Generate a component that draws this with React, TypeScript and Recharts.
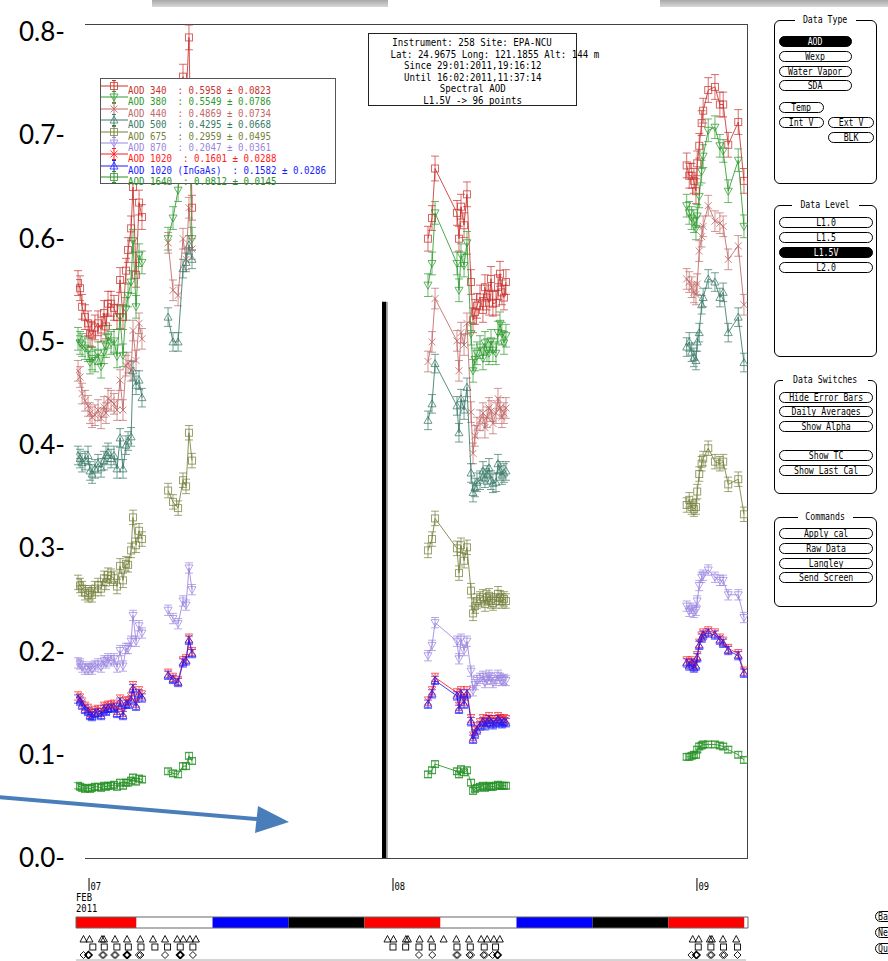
import React from 'react';
import { ComposedChart, Line, XAxis, YAxis, ErrorBar, ReferenceLine, ReferenceArea, Scatter } from 'recharts';

// ---------- axes ----------
const xDomain: [number, number] = [-1.03, 52.03]; // hours since 07 Feb 2011 00:00
const yDomain: [number, number] = [0, 0.808];
const yTicks = [0, 0.1, 0.2, 0.3, 0.4, 0.5, 0.6, 0.7, 0.8];

// ---------- measurement times (hours) ----------
const timesA = [-0.87, -0.71, -0.55, -0.32, -0.08, 0.08, 0.24, 0.47, 0.71, 0.95, 1.18, 1.34, 1.5, 1.74, 1.97, 2.21, 2.45, 2.68, 2.92, 3.08, 3.32, 3.47, 3.71, 3.95, 4.18];
const timesB = [6.24, 6.63, 7.03, 7.42, 7.66, 7.89, 8.13];
const timesC = [26.76, 27.08, 27.32, 29.05, 29.21, 29.37, 29.61, 29.84, 30.16, 30.32, 30.47, 30.63, 30.87, 31.1, 31.26, 31.42, 31.58, 31.74, 31.89, 32.13, 32.29, 32.45, 32.6, 32.76, 32.92];
const timesD = [47.19, 47.39, 47.58, 47.76, 47.92, 48.02, 48.18, 48.37, 48.49, 48.89, 49.42, 49.81, 50.07, 50.47, 51.26, 51.71];

// ---------- AOD values ----------
const aod340A = [0.557, 0.552, 0.534, 0.524, 0.518, 0.508, 0.507, 0.514, 0.518, 0.512, 0.528, 0.515, 0.537, 0.537, 0.533, 0.524, 0.56, 0.524, 0.569, 0.589, 0.61, 0.65, 0.565, 0.635, 0.621];
const aod340B = [0.665, 0.68, 0.72, 0.757, 0.735, 0.795, 0.63];
const aod340C = [0.6, 0.62, 0.668, 0.625, 0.6, 0.631, 0.613, 0.643, 0.558, 0.521, 0.529, 0.535, 0.543, 0.531, 0.553, 0.543, 0.538, 0.561, 0.537, 0.538, 0.553, 0.566, 0.548, 0.543, 0.558];
const aod340D = [0.671, 0.661, 0.661, 0.656, 0.646, 0.673, 0.69, 0.712, 0.724, 0.744, 0.747, 0.73, 0.73, 0.691, 0.713, 0.656];

const aod380A = [0.503, 0.499, 0.497, 0.494, 0.492, 0.48, 0.484, 0.482, 0.489, 0.476, 0.49, 0.496, 0.505, 0.499, 0.501, 0.486, 0.524, 0.487, 0.532, 0.545, 0.558, 0.598, 0.534, 0.584, 0.577];
const aod380B = [0.6, 0.62, 0.647, 0.7, 0.68, 0.72, 0.6];
const aod380C = [0.555, 0.576, 0.625, 0.576, 0.55, 0.584, 0.574, 0.596, 0.508, 0.472, 0.483, 0.489, 0.495, 0.484, 0.499, 0.492, 0.489, 0.501, 0.492, 0.489, 0.509, 0.518, 0.508, 0.499, 0.506];
const aod380D = [0.632, 0.625, 0.62, 0.617, 0.61, 0.622, 0.641, 0.665, 0.68, 0.705, 0.708, 0.69, 0.685, 0.646, 0.676, 0.612];

const aod440A = [0.472, 0.466, 0.45, 0.443, 0.438, 0.431, 0.427, 0.429, 0.434, 0.426, 0.437, 0.431, 0.445, 0.443, 0.44, 0.434, 0.463, 0.434, 0.477, 0.48, 0.472, 0.511, 0.482, 0.518, 0.503];
const aod440B = [0.596, 0.55, 0.545, 0.6, 0.58, 0.63, 0.59];
const aod440C = [0.481, 0.5, 0.542, 0.501, 0.472, 0.509, 0.497, 0.518, 0.432, 0.392, 0.409, 0.417, 0.424, 0.431, 0.417, 0.427, 0.436, 0.433, 0.421, 0.431, 0.445, 0.436, 0.427, 0.431, 0.436];
const aod440D = [0.561, 0.558, 0.553, 0.548, 0.546, 0.556, 0.588, 0.602, 0.612, 0.632, 0.617, 0.615, 0.612, 0.58, 0.593, 0.536];

const aod500A = [0.39, 0.387, 0.383, 0.385, 0.39, 0.375, 0.372, 0.377, 0.382, 0.378, 0.385, 0.39, 0.393, 0.387, 0.39, 0.377, 0.407, 0.377, 0.4, 0.404, 0.408, 0.472, 0.458, 0.463, 0.446];
const aod500B = [0.524, 0.5, 0.5, 0.571, 0.577, 0.594, 0.58];
const aod500C = [0.424, 0.44, 0.479, 0.438, 0.412, 0.445, 0.434, 0.456, 0.373, 0.354, 0.359, 0.364, 0.366, 0.375, 0.368, 0.371, 0.378, 0.366, 0.363, 0.364, 0.382, 0.375, 0.371, 0.373, 0.375];
const aod500D = [0.495, 0.5, 0.49, 0.485, 0.482, 0.5, 0.509, 0.536, 0.543, 0.561, 0.558, 0.543, 0.548, 0.509, 0.524, 0.48];

const aod675A = [0.267, 0.264, 0.261, 0.257, 0.255, 0.257, 0.255, 0.261, 0.264, 0.261, 0.271, 0.267, 0.274, 0.273, 0.271, 0.263, 0.283, 0.269, 0.285, 0.284, 0.298, 0.33, 0.303, 0.317, 0.309];
const aod675B = [0.356, 0.345, 0.339, 0.366, 0.36, 0.412, 0.385];
const aod675C = [0.298, 0.309, 0.329, 0.3, 0.276, 0.303, 0.288, 0.301, 0.259, 0.237, 0.244, 0.249, 0.251, 0.253, 0.246, 0.252, 0.254, 0.249, 0.247, 0.249, 0.256, 0.252, 0.249, 0.251, 0.249];
const aod675D = [0.342, 0.347, 0.34, 0.338, 0.34, 0.355, 0.372, 0.382, 0.387, 0.397, 0.384, 0.382, 0.384, 0.362, 0.367, 0.333];

const aod870A = [0.189, 0.188, 0.185, 0.183, 0.183, 0.185, 0.183, 0.186, 0.188, 0.185, 0.191, 0.189, 0.193, 0.191, 0.193, 0.185, 0.201, 0.186, 0.203, 0.203, 0.21, 0.235, 0.21, 0.225, 0.218];
const aod870B = [0.24, 0.232, 0.227, 0.249, 0.245, 0.281, 0.26];
const aod870C = [0.196, 0.206, 0.228, 0.21, 0.193, 0.212, 0.201, 0.21, 0.181, 0.162, 0.168, 0.172, 0.174, 0.176, 0.17, 0.173, 0.177, 0.174, 0.17, 0.172, 0.177, 0.174, 0.172, 0.173, 0.172];
const aod870D = [0.244, 0.239, 0.242, 0.238, 0.24, 0.249, 0.264, 0.272, 0.274, 0.279, 0.272, 0.269, 0.269, 0.255, 0.255, 0.233];

const aod1020A = [0.157, 0.155, 0.151, 0.147, 0.145, 0.141, 0.14, 0.143, 0.144, 0.141, 0.147, 0.145, 0.148, 0.148, 0.149, 0.143, 0.154, 0.141, 0.152, 0.152, 0.156, 0.167, 0.15, 0.162, 0.158];
const aod1020B = [0.179, 0.175, 0.172, 0.191, 0.193, 0.213, 0.2];
const aod1020C = [0.152, 0.162, 0.175, 0.16, 0.147, 0.162, 0.152, 0.162, 0.135, 0.118, 0.123, 0.127, 0.131, 0.135, 0.131, 0.134, 0.137, 0.134, 0.132, 0.134, 0.137, 0.135, 0.133, 0.135, 0.134];
const aod1020D = [0.191, 0.188, 0.191, 0.186, 0.188, 0.196, 0.208, 0.215, 0.218, 0.22, 0.218, 0.213, 0.21, 0.203, 0.198, 0.181];

const aodIngaasA = [0.154, 0.152, 0.148, 0.144, 0.142, 0.138, 0.137, 0.14, 0.141, 0.138, 0.144, 0.142, 0.145, 0.145, 0.146, 0.14, 0.151, 0.138, 0.149, 0.149, 0.153, 0.164, 0.147, 0.159, 0.155];
const aodIngaasB = [0.177, 0.173, 0.17, 0.189, 0.191, 0.211, 0.198];
const aodIngaasC = [0.149, 0.159, 0.172, 0.157, 0.144, 0.159, 0.149, 0.159, 0.132, 0.115, 0.12, 0.124, 0.128, 0.132, 0.128, 0.131, 0.134, 0.131, 0.129, 0.131, 0.134, 0.132, 0.13, 0.132, 0.131];
const aodIngaasD = [0.189, 0.186, 0.189, 0.184, 0.186, 0.194, 0.206, 0.213, 0.216, 0.218, 0.216, 0.211, 0.208, 0.201, 0.196, 0.179];

const aod1640A = [0.07, 0.069, 0.068, 0.067, 0.068, 0.067, 0.068, 0.069, 0.069, 0.068, 0.07, 0.069, 0.07, 0.07, 0.071, 0.069, 0.073, 0.07, 0.073, 0.073, 0.075, 0.078, 0.074, 0.077, 0.076];
const aod1640B = [0.084, 0.082, 0.081, 0.089, 0.089, 0.099, 0.094];
const aod1640C = [0.081, 0.085, 0.091, 0.084, 0.081, 0.086, 0.083, 0.085, 0.073, 0.065, 0.067, 0.068, 0.069, 0.07, 0.068, 0.069, 0.07, 0.069, 0.069, 0.07, 0.071, 0.07, 0.07, 0.07, 0.07];
const aod1640D = [0.098, 0.098, 0.099, 0.1, 0.1, 0.105, 0.108, 0.109, 0.11, 0.11, 0.11, 0.109, 0.108, 0.105, 0.1, 0.095];

// typical uncertainty per channel
const errors = [0.012, 0.011, 0.01, 0.009, 0.007, 0.005, 0.004, 0.004, 0.003];

const legendLabels = [
  'AOD 340  : 0.5958 \u00b1 0.0823',
  'AOD 380  : 0.5549 \u00b1 0.0786',
  'AOD 440  : 0.4869 \u00b1 0.0734',
  'AOD 500  : 0.4295 \u00b1 0.0668',
  'AOD 675  : 0.2959 \u00b1 0.0495',
  'AOD 870  : 0.2047 \u00b1 0.0361',
  'AOD 1020  : 0.1601 \u00b1 0.0288',
  'AOD 1020 (InGaAs)  : 0.1582 \u00b1 0.0286',
  'AOD 1640  : 0.0812 \u00b1 0.0145',
];
const colors = ['#c8322e', '#2e9a2e', '#c06868', '#3a7a68', '#75803c', '#9b85e0', '#ff1a1a', '#1a1aff', '#279127'];
const shapes = ['square', 'down', 'x', 'up', 'square', 'down', 'x', 'up', 'square'];
const seriesValues = [
  [aod340A, aod340B, aod340C, aod340D],
  [aod380A, aod380B, aod380C, aod380D],
  [aod440A, aod440B, aod440C, aod440D],
  [aod500A, aod500B, aod500C, aod500D],
  [aod675A, aod675B, aod675C, aod675D],
  [aod870A, aod870B, aod870C, aod870D],
  [aod1020A, aod1020B, aod1020C, aod1020D],
  [aodIngaasA, aodIngaasB, aodIngaasC, aodIngaasD],
  [aod1640A, aod1640B, aod1640C, aod1640D],
];
const clusterTimes = [timesA, timesB, timesC, timesD];

const infoLines = [
  'Instrument: 258 Site: EPA-NCU',
  'Lat: 24.9675 Long: 121.1855 Alt: 144 m',
  'Since 29:01:2011,19:16:12',
  'Until 16:02:2011,11:37:14',
  'Spectral AOD',
  'L1.5V -> 96 points',
];

// last calibration marker
const calMarker = { t: 23.29, top: 0.539 };

// ---------- timeline ----------
const segBounds = [-1.03, 3.75, 9.75, 15.75, 21.75, 27.75, 33.75, 39.75, 45.75, 51.75, 52.03];
const segColors = ['#ff0000', '#ffffff', '#0000ff', '#000000', '#ff0000', '#ffffff', '#0000ff', '#000000', '#ff0000', '#ffffff'];
const dayTicks = [0, 24, 48];
const dayNames = ['07', '08', '09'];
const monthName = 'FEB';
const yearName = '2011';
const triTimes = [-0.2, 1.1, 2.05, 3.0, 4.05, 5.05, 6.0, 7.2, 8.2, 23.8, 25.1, 26.1, 27.0, 28.0, 29.0, 30.0, 31.2, 32.2, 47.9, 49.1, 50.05, 51.1];
const triKinds = [2, 3, 1, 1, 1, 1, 1, 2, 2, 2, 3, 1, 1, 1, 1, 1, 2, 2, 2, 3, 1, 1];
const sqTimes = [0.3, 1.2, 2.2, 3.1, 4.1, 5.2, 6.2, 7.2, 8.2, 24.0, 25.0, 26.05, 27.1, 29.05, 30.1, 31.2, 32.1, 48.1, 49.1, 50.1, 51.2];
const diaTimes = [-0.2, 1.1, 2.05, 3.0, 4.0, 6.0, 7.2, 8.2, 26.05, 27.1, 29.05, 30.1, 31.2, 32.1, 47.8, 49.1, 50.1, 51.2];
const diaKinds = [2, 3, 3, 4, 3, 1, 4, 1, 1, 1, 3, 3, 3, 2, 2, 3, 3, 1];

const MONO = "'DejaVu Sans Mono', monospace";

function Marker({ cx, cy, shape, color }: any) {
  if (cx == null || cy == null || isNaN(cx) || isNaN(cy)) return <g />;
  const sw = 1;
  if (shape === 'square') return <rect x={cx - 3.5} y={cy - 3.5} width={7} height={7} fill="none" stroke={color} strokeWidth={sw} strokeOpacity={0.75} />;
  if (shape === 'down') return <polygon points={`${cx - 4},${cy - 3} ${cx + 4},${cy - 3} ${cx},${cy + 4}`} fill="none" stroke={color} strokeWidth={sw} strokeOpacity={0.75} />;
  if (shape === 'up') return <polygon points={`${cx - 4},${cy + 3} ${cx + 4},${cy + 3} ${cx},${cy - 4}`} fill="none" stroke={color} strokeWidth={sw} strokeOpacity={0.75} />;
  return <path d={`M${cx - 3.5},${cy - 3.5}L${cx + 3.5},${cy + 3.5}M${cx - 3.5},${cy + 3.5}L${cx + 3.5},${cy - 3.5}`} stroke={color} strokeWidth={sw} strokeOpacity={0.8} />;
}

function YTick(props: any) {
  const { y, payload } = props;
  return (
    <text x={65} y={y + 9} textAnchor="end" fontFamily="Lato, 'Open Sans', sans-serif" fontSize={26} fill="#000">
      {payload.value.toFixed(1) + '-'}
    </text>
  );
}

function CondText({ children, align = 'left', size = 11 }: any) {
  return (
    <span style={{ display: 'inline-block', fontFamily: MONO, fontSize: size, lineHeight: '11px', whiteSpace: 'pre', transform: 'scaleX(0.83)', transformOrigin: align === 'center' ? 'center' : 'left' }}>
      {children}
    </span>
  );
}

function Btn({ x, y, w, label, active, left }: any) {
  return (
    <div
      style={{
        position: 'absolute', left: x, top: y, width: w, height: 11, boxSizing: 'border-box',
        border: '1px solid #000', borderRadius: 6, background: active ? '#000' : '#fff', color: active ? '#fff' : '#000',
        display: 'flex', alignItems: 'center', justifyContent: left ? 'flex-start' : 'center', paddingLeft: left ? 2 : 0,
        overflow: 'hidden', fontFamily: MONO, fontSize: 10, lineHeight: '10px',
      }}
    >
      <span style={{ display: 'inline-block', whiteSpace: 'pre', transform: 'scaleX(0.82)', transformOrigin: left ? 'left' : 'center' }}>{label}</span>
    </div>
  );
}

function Panel({ x, y, w, h, title }: any) {
  return (
    <div style={{ position: 'absolute', left: x, top: y, width: w, height: h, border: '1px solid #000', borderRadius: 6 }}>
      <div style={{ position: 'absolute', left: 0, right: 0, top: -7, textAlign: 'center', lineHeight: '12px', fontSize: 10 }}>
        <span style={{ background: '#fff', padding: '0 3px', display: 'inline-block' }}>
          <span style={{ display: 'inline-block', fontFamily: MONO, fontSize: 10, lineHeight: '12px', whiteSpace: 'pre', transform: 'scaleX(0.82)' }}>{title}</span>
        </span>
      </div>
    </div>
  );
}

function TimelineShape(props: any) {
  const { cx, cy, payload } = props;
  if (cx == null || cy == null) return <g />;
  const s = payload.sym;
  const k = payload.kind || 1;
  const tri = (dx: number, dy: number, key: string) => (
    <polygon key={key} points={`${cx + dx - 3.5},${cy + dy + 3} ${cx + dx + 3.5},${cy + dy + 3} ${cx + dx},${cy + dy - 3.5}`} fill="none" stroke="#000" strokeWidth={0.9} />
  );
  const dia = (dx: number, key: string, w = 0.9) => (
    <polygon key={key} points={`${cx + dx},${cy - 3.5} ${cx + dx + 3.5},${cy} ${cx + dx},${cy + 3.5} ${cx + dx - 3.5},${cy}`} fill="none" stroke="#000" strokeWidth={w} />
  );
  if (s === 'tri') {
    if (k === 2) return <g>{tri(-3, 0, 'a')}{tri(3, 0, 'b')}</g>;
    if (k === 3) return <g>{tri(-1, 0, 'a')}{tri(1, 0, 'b')}</g>;
    return <g>{tri(0, 0, 'a')}</g>;
  }
  if (s === 'sq') return <rect x={cx - 3} y={cy - 3} width={6} height={6} fill="none" stroke="#000" strokeWidth={0.9} />;
  if (s === 'dia') {
    if (k === 2) return <g>{dia(-3, 'a')}{dia(2, 'b', 1.6)}</g>;
    if (k === 3) return <g>{dia(-0.8, 'a')}{dia(0.8, 'b')}</g>;
    if (k === 4) return <g>{dia(0, 'a', 1.8)}</g>;
    return <g>{dia(0, 'a')}</g>;
  }
  if (s === 'day') {
    const tx = (x: number, y: number, txt: string, key: string) => (
      <text key={key} x={0} y={0} transform={`translate(${x},${y}) scale(0.8,1)`} fontFamily={MONO} fontSize={11} fill="#000">{txt}</text>
    );
    return (
      <g>
        <line x1={cx} y1={cy - 7} x2={cx} y2={cy + 6} stroke="#000" strokeWidth={1} />
        {tx(cx + 1.5, cy + 5, payload.label, 'd')}
        {payload.month ? tx(cx - 13, cy + 16, payload.month, 'm') : null}
        {payload.year ? tx(cx - 13, cy + 27, payload.year, 'y') : null}
      </g>
    );
  }
  return <g />;
}

export default function App() {
  const lines: any[] = [];
  seriesValues.forEach((clusters, si) => {
    clusters.forEach((vals, ci) => {
      const data = vals.map((v, i) => ({ t: clusterTimes[ci][i], v, e: errors[si] }));
      lines.push(
        <Line
          key={`s${si}c${ci}`}
          data={data}
          dataKey="v"
          type="linear"
          stroke={colors[si]}
          strokeOpacity={0.85}
          strokeWidth={1}
          isAnimationActive={false}
          activeDot={false}
          dot={(p: any) => (
            <g key={`m${si}-${ci}-${p.index}`}>
              <Marker cx={p.cx} cy={p.cy} shape={shapes[si]} color={colors[si]} />
            </g>
          )}
        >
          <ErrorBar dataKey="e" width={4} stroke={colors[si]} strokeWidth={1} strokeOpacity={0.7} direction="y" isAnimationActive={false} />
        </Line>
      );
    });
  });

  const triData = triTimes.map((t, i) => ({ t, y: 22, sym: 'tri', kind: triKinds[i] }));
  const sqData = sqTimes.map((t) => ({ t, y: 14, sym: 'sq' }));
  const diaData = diaTimes.map((t, i) => ({ t, y: 6, sym: 'dia', kind: diaKinds[i] }));
  const dayData = dayTicks.map((t, i) => ({ t, y: 76, sym: 'day', label: dayNames[i], month: i === 0 ? monthName : null, year: i === 0 ? yearName : null }));

  return (
    <div style={{ position: 'absolute', left: 0, top: 0, width: 888, height: 961, overflow: 'hidden', background: '#fff' }}>
      {/* top slide remnants */}
      <div style={{ position: 'absolute', left: 152, top: 0, width: 236, height: 7, background: 'linear-gradient(#a8a8a8,#d8d8d8)' }} />
      <div style={{ position: 'absolute', left: 660, top: 0, width: 228, height: 7, background: 'linear-gradient(#a8a8a8,#d8d8d8)' }} />

      {/* plot frame */}
      <div style={{ position: 'absolute', left: 85, top: 24, width: 662, height: 833, borderTop: '1px solid #444', borderRight: '1px solid #444', borderBottom: '1px solid #444' }} />

      <div style={{ position: 'absolute', left: 0, top: 0 }}>
        <ComposedChart width={888} height={880} margin={{ top: 24, right: 140, bottom: 22, left: 0 }}>
          <XAxis type="number" dataKey="t" domain={xDomain} hide allowDataOverflow />
          <YAxis type="number" domain={yDomain} ticks={yTicks} width={76} axisLine={false} tickLine={false} tick={<YTick />} interval={0} allowDataOverflow />
          <ReferenceLine segment={[{ x: calMarker.t + 0.22, y: 0 }, { x: calMarker.t + 0.22, y: calMarker.top }]} stroke="#9a9a9a" strokeWidth={2} />
          <ReferenceLine segment={[{ x: calMarker.t, y: 0 }, { x: calMarker.t, y: calMarker.top }]} stroke="#000" strokeWidth={4} />
          {lines}
        </ComposedChart>
      </div>

      {/* info box */}
      <div style={{ position: 'absolute', left: 368, top: 33, width: 207, height: 70, border: '1px solid #222', background: '#fff', textAlign: 'center', paddingTop: 1 }}>
        {infoLines.map((l, i) => (
          <div key={i} style={{ height: 11.5, lineHeight: '11.5px', whiteSpace: 'nowrap' }}>
            <CondText align="center">{l}</CondText>
          </div>
        ))}
      </div>

      {/* legend */}
      <div style={{ position: 'absolute', left: 100, top: 78, width: 234, height: 104, border: '1px solid #555', background: '#fff' }}>
        {legendLabels.map((l, i) => (
          <div key={i} style={{ position: 'absolute', left: 0, top: 1 + i * 11.4, height: 11.4, width: 234, whiteSpace: 'nowrap' }}>
            <svg width={27} height={12} style={{ position: 'absolute', left: 0, top: 0 }}>
              <line x1={0} y1={6} x2={27} y2={6} stroke={colors[i]} strokeWidth={1} />
              <line x1={13} y1={0.5} x2={13} y2={11.5} stroke={colors[i]} strokeWidth={1} />
              <line x1={11} y1={0.5} x2={15} y2={0.5} stroke={colors[i]} strokeWidth={1} />
              <line x1={11} y1={11.5} x2={15} y2={11.5} stroke={colors[i]} strokeWidth={1} />
              <Marker cx={13} cy={6} shape={shapes[i]} color={colors[i]} />
            </svg>
            <div style={{ position: 'absolute', left: 27, top: 0, color: colors[i] }}>
              <CondText>{l}</CondText>
            </div>
          </div>
        ))}
      </div>

      {/* timeline */}
      <div style={{ position: 'absolute', left: 0, top: 861 }}>
        <ComposedChart width={888} height={100} margin={{ top: 0, right: 140, bottom: 0, left: 76 }}>
          <XAxis type="number" dataKey="t" domain={xDomain} hide allowDataOverflow />
          <YAxis type="number" dataKey="y" domain={[0, 100]} hide />
          {segColors.map((c, i) => (
            <ReferenceArea key={i} x1={segBounds[i]} x2={segBounds[i + 1]} y1={33} y2={44} fill={c} fillOpacity={1} stroke="none" ifOverflow="visible" />
          ))}
          <ReferenceArea x1={segBounds[0]} x2={segBounds[segBounds.length - 1]} y1={33} y2={44} fill="none" stroke="#666" strokeWidth={1} ifOverflow="visible" />
          <Scatter data={dayData} dataKey="y" shape={<TimelineShape />} isAnimationActive={false} />
          <Scatter data={triData} dataKey="y" shape={<TimelineShape />} isAnimationActive={false} />
          <Scatter data={sqData} dataKey="y" shape={<TimelineShape />} isAnimationActive={false} />
          <Scatter data={diaData} dataKey="y" shape={<TimelineShape />} isAnimationActive={false} />
        </ComposedChart>
      </div>
      <div style={{ position: 'absolute', left: 76, top: 959, width: 670, height: 2, background: '#d4d4d4' }} />

      {/* right control panel */}
      <Panel x={774} y={20} w={101} h={162} title="Data Type" />
      <Btn x={779} y={36} w={73} label="AOD" active />
      <Btn x={779} y={51} w={73} label="Wexp" />
      <Btn x={779} y={66} w={73} label="Water Vapor" />
      <Btn x={779} y={80} w={73} label="SDA" />
      <Btn x={779} y={102} w={45} label="Temp" />
      <Btn x={779} y={117} w={45} label="Int V" />
      <Btn x={828} y={117} w={46} label="Ext V" />
      <Btn x={828} y={132} w={46} label="BLK" />

      <Panel x={774} y={205} w={101} h={150} title="Data Level" />
      <Btn x={779} y={217} w={94} label="L1.0" />
      <Btn x={779} y={232} w={94} label="L1.5" />
      <Btn x={779} y={247} w={94} label="L1.5V" active />
      <Btn x={779} y={262} w={94} label="L2.0" />

      <Panel x={774} y={380} w={101} h={112} title="Data Switches" />
      <Btn x={779} y={392} w={94} label="Hide Error Bars" />
      <Btn x={779} y={406} w={94} label="Daily Averages" />
      <Btn x={779} y={421} w={94} label="Show Alpha" />
      <Btn x={779} y={450} w={94} label="Show TC" />
      <Btn x={779} y={465} w={94} label="Show Last Cal" />

      <Panel x={774} y={517} w={101} h={88} title="Commands" />
      <Btn x={779} y={528} w={94} label="Apply cal" />
      <Btn x={779} y={543} w={94} label="Raw Data" />
      <Btn x={779} y={558} w={94} label="Langley" />
      <Btn x={779} y={572} w={94} label="Send Screen" />

      <Btn x={875} y={911} w={40} label="Ba" left />
      <Btn x={875} y={927} w={40} label="Ne" left />
      <Btn x={875} y={943} w={40} label="Qu" left />

      {/* annotation arrow */}
      <svg width={888} height={961} style={{ position: 'absolute', left: 0, top: 0, pointerEvents: 'none' }}>
        <line x1={-2} y1={797} x2={262} y2={819.5} stroke="#4a7ebb" strokeWidth={4} />
        <polygon points="289,822 255,833 258,806" fill="#4a7ebb" />
      </svg>
    </div>
  );
}
